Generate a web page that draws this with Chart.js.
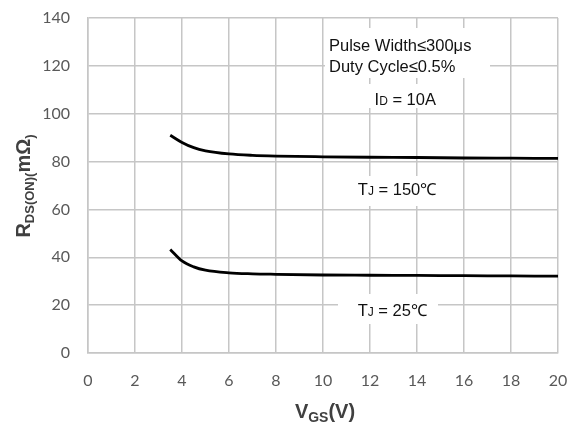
<!DOCTYPE html>
<html>
<head>
<meta charset="utf-8">
<script src="https://cdn.jsdelivr.net/npm/chart.js@4"></script>
<style>
  html, body { margin: 0; padding: 0; background: #fff; }
  #wrap { width: 579px; height: 425px; }
</style>
</head>
<body>
<div id="wrap"><canvas id="c" width="579" height="425"></canvas></div>
<script>
// gate voltage (V) and on-resistance (mOhm) at two junction temperatures
var vgs = [3.5, 4, 4.5, 5, 6, 7, 8, 10, 12, 14, 16, 18, 20];
var r150 = [91.0, 88.0, 85.8, 84.5, 83.2, 82.6, 82.3, 82.0, 81.8, 81.7, 81.5, 81.4, 81.3];
var r25 = [43.3, 38.5, 36.0, 34.6, 33.5, 33.1, 32.9, 32.6, 32.5, 32.4, 32.3, 32.2, 32.1];

var xTicks = [0, 2, 4, 6, 8, 10, 12, 14, 16, 18, 20];
var yTicks = [0, 20, 40, 60, 80, 100, 120, 140];

function pts(xs, ys) {
	return xs.map(function (x, i) { return { x: x, y: ys[i] }; });
}

// text pieces: [text, subscript?]
function drawRich(ctx, parts, x, y, big, small, align) {
	var w = 0;
	parts.forEach(function (p) {
		ctx.font = 'bold ' + (p[1] ? small : big) + 'px "Liberation Sans", Arial, sans-serif';
		w += ctx.measureText(p[0]).width;
	});
	var cx = align === 'center' ? x - w / 2 : x;
	ctx.textAlign = 'left';
	ctx.textBaseline = 'alphabetic';
	parts.forEach(function (p) {
		ctx.font = 'bold ' + (p[1] ? small : big) + 'px "Liberation Sans", Arial, sans-serif';
		ctx.fillText(p[0], cx, y + (p[1] ? 4 : 0));
		cx += ctx.measureText(p[0]).width;
	});
}

function labelPlain(ctx, parts, x, y, size, subSize) {
	var w = 0;
	parts.forEach(function (p) {
		ctx.font = (p[1] ? subSize : size) + 'px "Liberation Sans", Arial, sans-serif';
		w += ctx.measureText(p[0]).width;
	});
	var cx = x - w / 2;
	ctx.textAlign = 'left';
	ctx.textBaseline = 'middle';
	parts.forEach(function (p) {
		ctx.font = (p[1] ? subSize : size) + 'px "Liberation Sans", Arial, sans-serif';
		ctx.fillText(p[0], cx, y + (p[1] ? 1 : 0));
		cx += ctx.measureText(p[0]).width;
	});
}

var notes = {
	id: 'notes',
	beforeDatasetsDraw: function (chart) {
		var ctx = chart.ctx, xs = chart.scales.x, ys = chart.scales.y;
		ctx.save();
		ctx.fillStyle = '#fff';
		// white boxes behind the annotations
		ctx.fillRect(325, 28, 165, 50);
		ctx.fillRect(355, 84, 92, 24);
		ctx.fillRect(342, 176, 110, 30);
		ctx.fillRect(338, 294, 100, 30);

		ctx.fillStyle = '#111';
		ctx.textAlign = 'left';
		ctx.textBaseline = 'middle';
		ctx.font = '16.5px "Liberation Sans", Arial, sans-serif';
		ctx.fillText('Pulse Width\u2264300\u03bcs', 329, ys.getPixelForValue(128.1));
		ctx.fillText('Duty Cycle\u22640.5%', 329, ys.getPixelForValue(119.3));

		labelPlain(ctx, [['I', 0], ['D', 1], [' = 10A', 0]], xs.getPixelForValue(13.5), ys.getPixelForValue(105.5), 16.5, 12);
		labelPlain(ctx, [['T', 0], ['J', 1], [' = 150\u2103', 0]], xs.getPixelForValue(13.15), ys.getPixelForValue(67.9), 16.5, 12);
		labelPlain(ctx, [['T', 0], ['J', 1], [' = 25\u2103', 0]], xs.getPixelForValue(12.95), ys.getPixelForValue(17.3), 16.5, 12);
		ctx.restore();
	},
	afterDraw: function (chart) {
		var ctx = chart.ctx;
		ctx.save();
		ctx.fillStyle = '#404040';
		drawRich(ctx, [['V', 0], ['GS', 1], ['(V)', 0]], 325, 418, 20, 14, 'center');
		ctx.translate(30, 186);
		ctx.rotate(-Math.PI / 2);
		drawRich(ctx, [['R', 0], ['DS(ON)(', 1], ['m\u03a9', 0], [')', 1]], 0, 0, 20, 13, 'center');
		ctx.restore();
	}
};

var chart = new Chart(document.getElementById('c'), {
	type: 'scatter',
	data: {
		datasets: [
			{ label: 'TJ = 150', data: pts(vgs, r150) },
			{ label: 'TJ = 25', data: pts(vgs, r25) }
		].map(function (d) {
			d.showLine = true;
			d.borderColor = '#000';
			d.borderWidth = 2.8;
			d.pointRadius = 0;
			d.cubicInterpolationMode = 'monotone';
			d.fill = false;
			return d;
		})
	},
	options: {
		responsive: false,
		animation: false,
		layout: { padding: { left: 0, top: 18, right: 21, bottom: 0 } },
		plugins: { legend: { display: false }, tooltip: { enabled: false } },
		scales: {
			x: {
				type: 'linear', min: 0, max: 20,
				afterBuildTicks: function (s) { s.ticks = xTicks.map(function (v) { return { value: v }; }); },
				afterFit: function (s) { s.height = 72; s.paddingLeft = 0; s.paddingRight = 0; },
				grid: { color: '#c6c6c6', lineWidth: 1.5, drawTicks: false },
				border: { color: '#c6c6c6', width: 1.5 },
				ticks: { color: '#595959', padding: 18, font: { family: 'Lato', size: 16 } }
			},
			y: {
				min: 0, max: 140,
				afterBuildTicks: function (s) { s.ticks = yTicks.map(function (v) { return { value: v }; }); },
				afterFit: function (s) { s.width = 88; s.paddingTop = 0; s.paddingBottom = 0; },
				grid: { color: '#c6c6c6', lineWidth: 1.5, drawTicks: false },
				border: { color: '#c6c6c6', width: 1.5 },
				ticks: { color: '#595959', padding: 18, font: { family: 'Lato', size: 16 } }
			}
		}
	},
	plugins: [notes]
});
</script>
</body>
</html>
